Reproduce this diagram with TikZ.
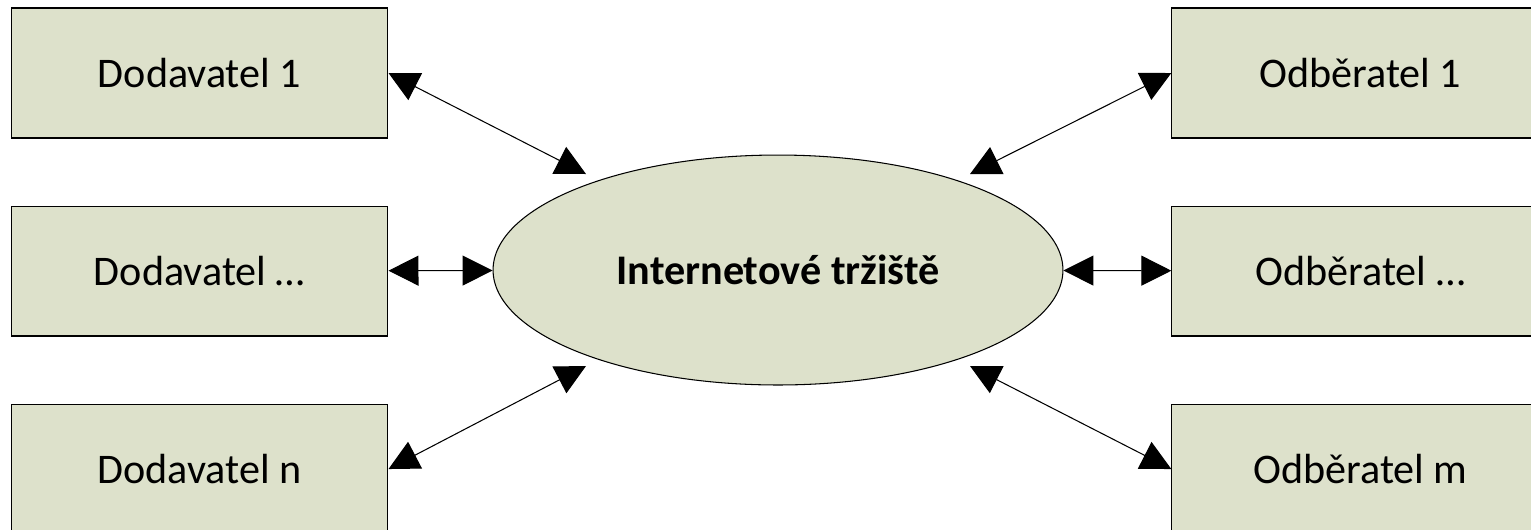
\documentclass[tikz,border=0pt]{standalone}
\usepackage{fontspec}
\setmainfont{Carlito}
\usetikzlibrary{positioning,shapes.geometric,arrows.meta}
\definecolor{boxfill}{HTML}{DDE1CB}
\tikzset{
  party/.style={draw=black,fill=boxfill,line width=0.6pt,minimum width=7.54cm,minimum height=2.6cm,font=\fontsize{24}{28}\selectfont},
  market/.style={ellipse,draw=black,fill=boxfill,line width=0.6pt,minimum width=11.4cm,minimum height=4.6cm,font=\bfseries\fontsize{24}{28}\selectfont},
  link/.style={line width=0.6pt,{Triangle[length=0.6cm,width=0.6cm]}-{Triangle[length=0.6cm,width=0.6cm]}}
}

\begin{document}
\begin{tikzpicture}[x=0.02cm,y=-0.02cm]
\clip (0,0) rectangle (1531,529);
\node[market] (mkt) at (778,270) {Internetové tržiště};
% suppliers
\node[party] (d1) at (199.5,73) {Dodavatel 1};
\node[party,below=1.34cm of d1] (d2) {Dodavatel …};
\node[party,below=1.34cm of d2] (d3) {Dodavatel n};
% customers
\node[party,right=15.66cm of d1] (o1) {Odběratel 1};
\node[party,right=15.66cm of d2] (o2) {Odběratel …};
\node[party,right=15.66cm of d3] (o3) {Odběratel m};
% ends on the market
\coordinate (e1) at (586,174);
\coordinate (e3) at (586,366);
\coordinate (f1) at (970,174);
\coordinate (f3) at (970,366);
\draw[link] (d1.east) -- (e1);
\draw[link] (d2) -- (mkt);
\draw[link] (d3.east) -- (e3);
\draw[link] (o1.west) -- (f1);
\draw[link] (o2) -- (mkt);
\draw[link] (o3.west) -- (f3);
\end{tikzpicture}
\end{document}
